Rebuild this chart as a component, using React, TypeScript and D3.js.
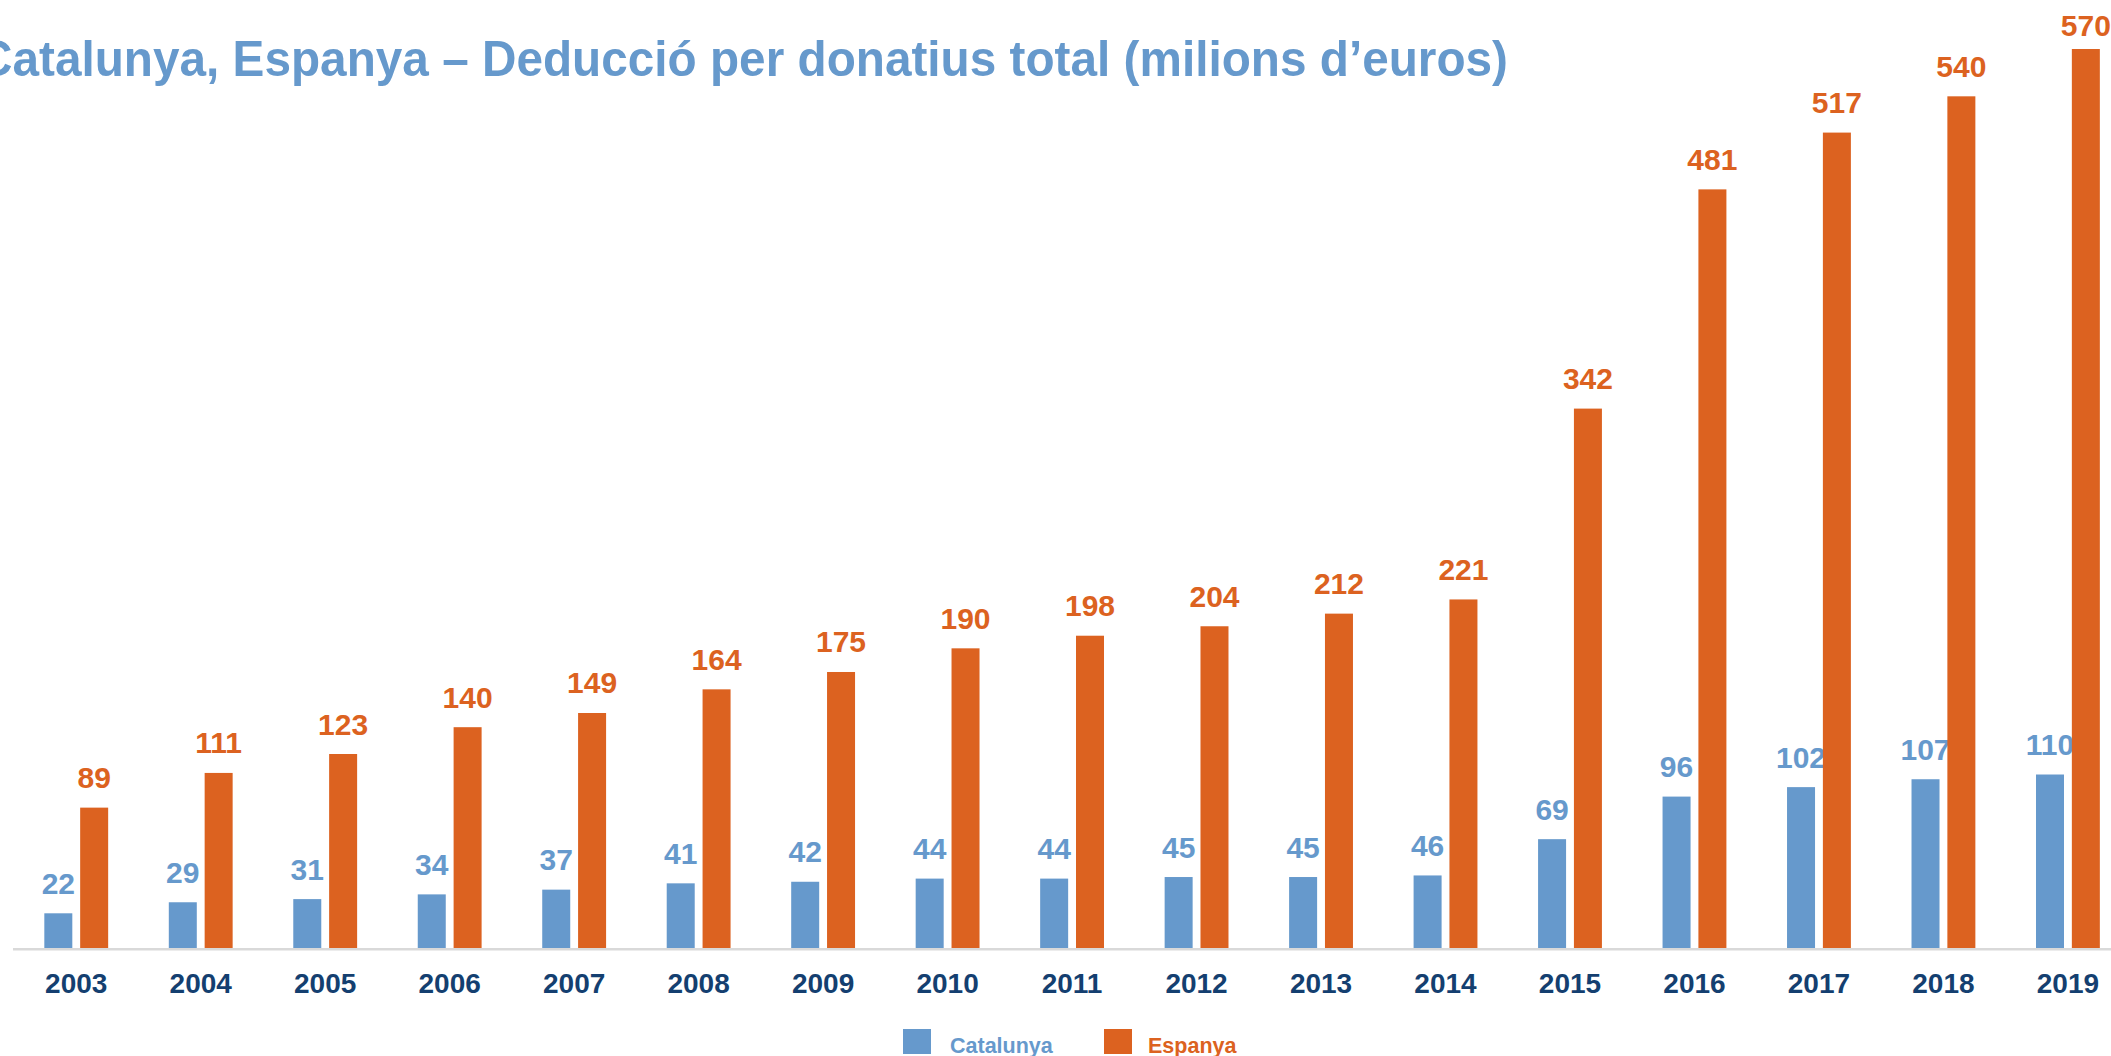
import React from "react";
import * as d3 from "d3";

const years = ["2003","2004","2005","2006","2007","2008","2009","2010","2011","2012","2013","2014","2015","2016","2017","2018","2019"];
const catalunya = [22,29,31,34,37,41,42,44,44,45,45,46,69,96,102,107,110];
const espanya = [89,111,123,140,149,164,175,190,198,204,212,221,342,481,517,540,570];
const seriesNames = ["Catalunya", "Espanya"];
const seriesColors = ["#6699CC", "#DC6220"];
const title = "Catalunya, Espanya – Deducció per donatius total (milions d’euros)";

const W = 2111;
const H = 1056;
const FONT = "'Liberation Sans', Arial, sans-serif";

export default function App() {
  const baseY = 948;
  const x0 = d3.scaleBand<string>().domain(years).range([14, 14 + 17 * 124.48]).padding(0);
  const step = x0.bandwidth();
  const groupW = 63.85;
  const x1 = d3
    .scaleBand<string>()
    .domain(seriesNames)
    .range([(step - groupW) / 2, (step + groupW) / 2])
    .paddingInner(0.219)
    .paddingOuter(0);
  const y = d3.scaleLinear().domain([0, 570]).range([baseY, 49]);
  const data = [catalunya, espanya];

  return (
    <svg
      width={W}
      height={H}
      style={{ position: "absolute", left: 0, top: 0, display: "block", background: "#fff" }}
      fontFamily={FONT}
      fontWeight="bold"
    >
      <text x={-22} y={76} fontSize={50} fill="#6699CC" textLength={1530} lengthAdjust="spacingAndGlyphs">
        {title}
      </text>

      {years.map((yr, i) => (
        <g key={yr} transform={`translate(${x0(yr)},0)`}>
          {seriesNames.map((s, k) => {
            const v = data[k][i];
            const bx = x1(s)!;
            const bw = x1.bandwidth();
            const top = y(v);
            const ly = Math.max(top - 19.5, 36);
            return (
              <g key={s}>
                <rect x={bx} y={top} width={bw} height={baseY - top} fill={seriesColors[k]} />
                <text x={bx + bw / 2} y={ly} textAnchor="middle" fontSize={30} fill={seriesColors[k]}>
                  {v}
                </text>
              </g>
            );
          })}
          <text x={step / 2} y={993} textAnchor="middle" fontSize={28} fill="#143F70">
            {yr}
          </text>
        </g>
      ))}

      <line x1={13} x2={W} y1={949.2} y2={949.2} stroke="#D9D9D9" strokeWidth={2.5} />

      <g>
        <rect x={903} y={1029} width={28} height={25} fill={seriesColors[0]} />
        <text x={950} y={1053} fontSize={21.5} fill={seriesColors[0]}>
          {seriesNames[0]}
        </text>
        <rect x={1104} y={1029} width={28} height={25} fill={seriesColors[1]} />
        <text x={1148} y={1053} fontSize={21.5} fill={seriesColors[1]}>
          {seriesNames[1]}
        </text>
      </g>
    </svg>
  );
}
